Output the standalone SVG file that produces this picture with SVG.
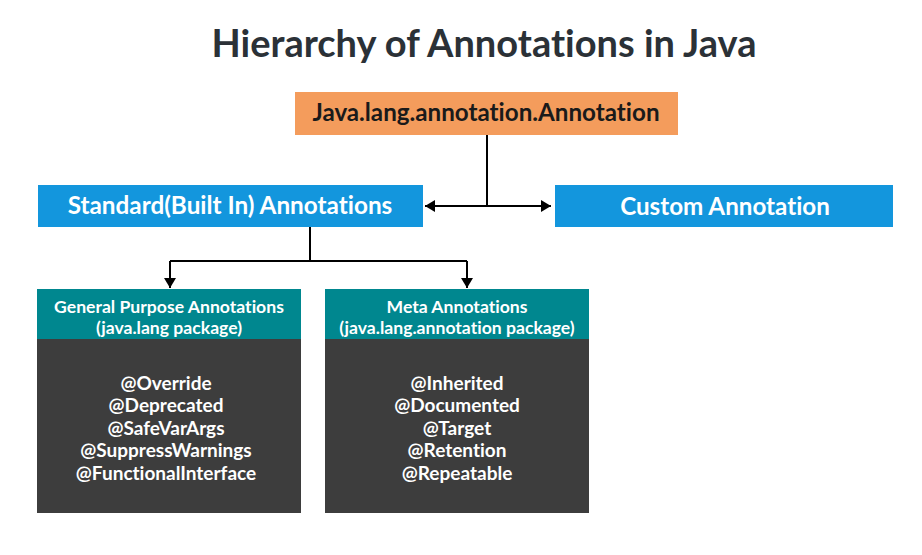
<svg xmlns="http://www.w3.org/2000/svg" width="922" height="555" viewBox="0 0 922 555">
<style>
.t{font-family:Lato,"Noto Sans",sans-serif;font-weight:bold;text-anchor:middle;font-variant-ligatures:none}
.w{fill:#ffffff}
.ln{stroke:#000;stroke-width:2;fill:none}
.h{font-size:17.6px}
.b{font-size:19px}
</style>
<defs>
<marker id="ah" viewBox="0 0 10 12" refX="10" refY="6" markerWidth="10" markerHeight="12" markerUnits="userSpaceOnUse" orient="auto-start-reverse">
<path d="M0,0 L10,6 L0,12 Z" fill="#000"/>
</marker>
</defs>
<rect width="922" height="555" fill="#fff"/>
<text class="t" x="484" y="57" font-size="38" fill="#2b3137">Hierarchy of Annotations in Java</text>
<g id="connectors">
<path class="ln" d="M487,135 V206"/>
<path class="ln" d="M425,206 H551" marker-start="url(#ah)" marker-end="url(#ah)"/>
<path class="ln" d="M310,227 V261"/>
<path class="ln" d="M170,261 H467"/>
<path class="ln" d="M170,261 V288" marker-end="url(#ah)"/>
<path class="ln" d="M467,261 V288" marker-end="url(#ah)"/>
</g>
<g id="root">
<rect x="295" y="92" width="383" height="43" fill="#f49c5c"/>
<text class="t" x="486" y="121" font-size="24.2" fill="#1a1a1a">Java.lang.annotation.Annotation</text>
</g>
<g id="standard">
<rect x="38" y="185" width="385" height="42" fill="#1396dd"/>
<text class="t w" x="230" y="214" font-size="24.3">Standard(Built In) Annotations</text>
</g>
<g id="custom">
<rect x="555" y="185" width="338" height="42" fill="#1396dd"/>
<text class="t w" x="725" y="215" font-size="24.2">Custom Annotation</text>
</g>
<g id="general">
<rect x="37" y="289" width="264" height="50" fill="#00878f"/>
<rect x="37" y="339" width="264" height="174" fill="#3d3d3d"/>
<text class="t w h" x="169" y="313">General Purpose Annotations</text>
<text class="t w h" x="169" y="334">(java.lang package)</text>
<text class="t w b" x="166" y="390">@Override</text>
<text class="t w b" x="166" y="412">@Deprecated</text>
<text class="t w b" x="166" y="435">@SafeVarArgs</text>
<text class="t w b" x="166" y="457">@SuppressWarnings</text>
<text class="t w b" x="166" y="480">@FunctionalInterface</text>
</g>
<g id="meta">
<rect x="325" y="289" width="264" height="50" fill="#00878f"/>
<rect x="325" y="339" width="264" height="174" fill="#3d3d3d"/>
<text class="t w h" x="457" y="313">Meta Annotations</text>
<text class="t w h" x="457" y="334">(java.lang.annotation package)</text>
<text class="t w b" x="457" y="390">@Inherited</text>
<text class="t w b" x="457" y="412">@Documented</text>
<text class="t w b" x="457" y="435">@Target</text>
<text class="t w b" x="457" y="457">@Retention</text>
<text class="t w b" x="457" y="480">@Repeatable</text>
</g>
</svg>
